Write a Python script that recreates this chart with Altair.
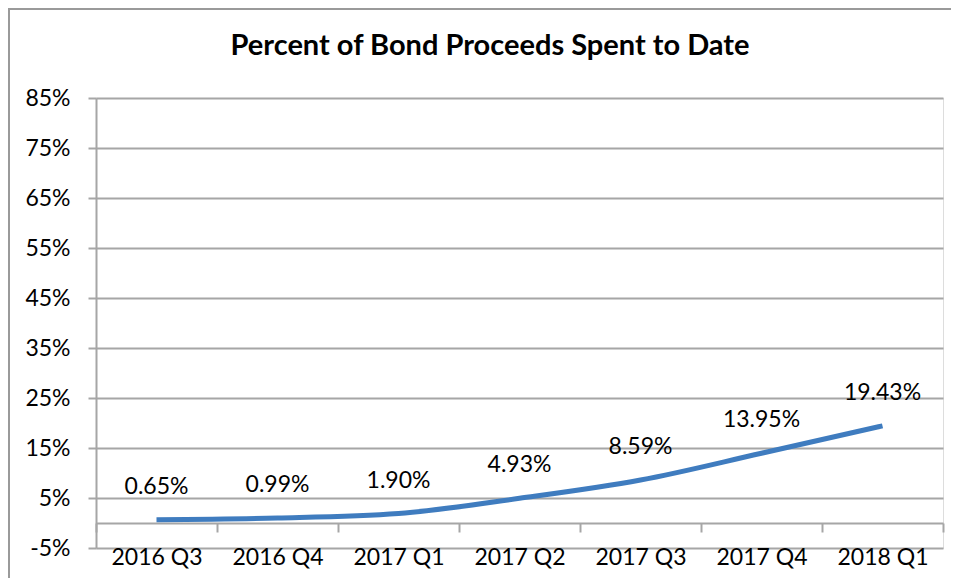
import altair as alt
import pandas as pd

quarters = ["2016 Q3", "2016 Q4", "2017 Q1", "2017 Q2", "2017 Q3", "2017 Q4", "2018 Q1"]
spent_pct = [0.65, 0.99, 1.90, 4.93, 8.59, 13.95, 19.43]
y_ticks = [-5, 5, 15, 25, 35, 45, 55, 65, 75, 85]
title_text = "Percent of Bond Proceeds Spent to Date"

df = pd.DataFrame({"quarter": quarters, "pct": spent_pct})
df["label"] = [f"{v:.2f}%" for v in spent_pct]
title_df = pd.DataFrame({"t": [title_text]})

FONT = "Lato"
GRID = "#A6A6A6"
W, H = 847, 450

x_enc = alt.X(
    "quarter:N", sort=quarters, title=None,
    scale=alt.Scale(paddingInner=0, paddingOuter=0),
    axis=alt.Axis(
        offset=-25, labelAngle=0, tickBand="extent", tickSize=9,
        tickColor=GRID, tickWidth=2, domainColor=GRID, domainWidth=2,
        labelPadding=14, labelFontSize=23, labelColor="black", labelFont=FONT,
        grid=False,
    ),
)
y_enc = alt.Y(
    "pct:Q", title=None,
    scale=alt.Scale(domain=[-5, 85], nice=False, zero=False),
    axis=alt.Axis(
        values=y_ticks, labelExpr="datum.value + '%'", tickSize=8,
        tickColor=GRID, tickWidth=2, domainColor=GRID, domainWidth=2,
        gridColor=GRID, gridWidth=2, grid=True,
        labelPadding=18, labelFontSize=23, labelColor="black", labelFont=FONT,
    ),
)

frame = alt.Chart(df).mark_rect(fill=None, stroke="#9A9A9A", strokeWidth=2).encode(
    x=alt.value(-87), x2=alt.value(W + 30), y=alt.value(-89), y2=alt.value(H + 60)
)

title = alt.Chart(title_df).mark_text(
    font=FONT, fontSize=29, fontWeight="bold", color="black",
    align="center", baseline="middle",
).encode(x=alt.value(394), y=alt.value(-52), text="t:N")

line = alt.Chart(df).mark_line(color="#3F7CBF", strokeWidth=5, interpolate="monotone").encode(
    x=x_enc, y=y_enc
)

labels = alt.Chart(df).mark_text(
    dy=-33, fontSize=23, font=FONT, color="black", baseline="middle"
).encode(
    x=alt.X("quarter:N", sort=quarters),
    y="pct:Q",
    text="label:N",
)

chart = alt.layer(frame, title, line, labels).properties(
    width=W, height=H,
    autosize=alt.AutoSizeParams(type="none"),
    padding={"left": 88, "top": 90, "right": 8, "bottom": 30},
).configure_view(stroke=None).configure(background="white")

chart.save("out.html", embed_options={"renderer": "svg", "actions": False})
